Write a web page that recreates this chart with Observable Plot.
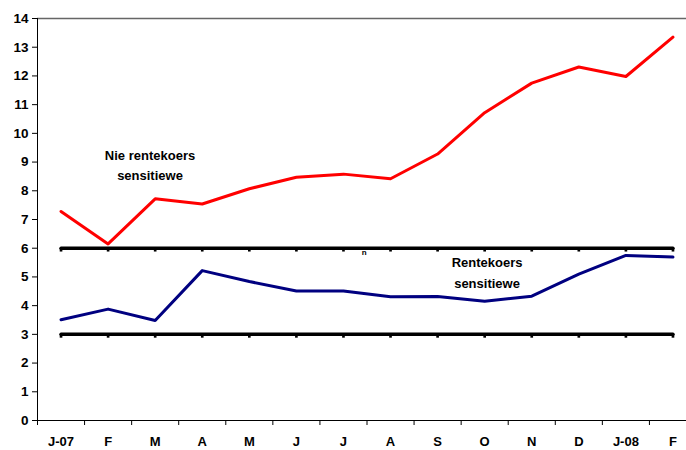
<!DOCTYPE html>
<html><head><meta charset="utf-8">
<script src="https://cdn.jsdelivr.net/npm/d3@7"></script>
<script src="https://cdn.jsdelivr.net/npm/@observablehq/plot@0.6"></script>
<style>body{margin:0;background:#fff}</style>
</head><body><div id="chart"></div>
<script>
const months = ["J-07","F","M","A","M","J","J","A","S","O","N","D","J-08","F"];
const nieRentekoers = [7.28,6.15,7.72,7.54,8.07,8.47,8.58,8.42,9.28,10.72,11.75,12.31,11.98,13.35];
const rentekoers = [3.51,3.88,3.48,5.22,4.84,4.51,4.51,4.31,4.32,4.15,4.33,5.10,5.75,5.69];
const referenceLevels = [6, 3];
const yTicks = [0,1,2,3,4,5,6,7,8,9,10,11,12,13,14];
const labelTexts = ["Nie rentekoers\nsensitiewe", "Rentekoers\nsensitiewe"];
const labelX = [1.89, 9.05];
const labelY = [8.36, 4.63];

const idx = months.map((_, i) => i);
const refRows = referenceLevels.flatMap(level => idx.map(i => ({i, level})));
const labels = labelTexts.map((t, k) => ({t, x: labelX[k], y: labelY[k]}));
const font = "'Liberation Sans','Arial',sans-serif";

const plot = Plot.plot({
  width: 686, height: 450,
  marginLeft: 37, marginTop: 18, marginBottom: 30, marginRight: 0,
  style: {fontFamily: font, fontSize: "13px", fontWeight: "bold", background: "#fff", color: "#000"},
  x: {type: "linear", domain: [-0.5, 13.5], range: [37, 696]},
  y: {domain: [0, 14], range: [420, 18]},
  marks: [
    Plot.ruleY([14], {stroke: "#666", strokeWidth: 1.5}),
    Plot.ruleY([0], {stroke: "#000", strokeWidth: 1}),
    Plot.ruleX([-0.5], {stroke: "#000", strokeWidth: 1}),
    Plot.axisY({ticks: yTicks, tickSize: 5, tickPadding: 4, fontSize: 13.5, fontWeight: "bold", tickFormat: d => d, label: null}),
    Plot.axisX({ticks: d3.range(-0.5, 14, 1), tickSize: 5, tickFormat: () => "", label: null}),
    Plot.axisX({ticks: idx, tickSize: 0, tickPadding: 16, tickFormat: i => months[i], fontSize: 13, fontWeight: "bold", label: null}),
    Plot.line(refRows, {x: "i", y: "level", z: "level", stroke: "#000", strokeWidth: 3.5}),
    Plot.dot(refRows, {x: "i", y: "level", r: 1.5, fill: "#000", symbol: "square", dy: 2}),
    Plot.line(idx, {x: i => i, y: i => nieRentekoers[i], stroke: "#ff0000", strokeWidth: 3}),
    Plot.line(idx, {x: i => i, y: i => rentekoers[i], stroke: "#000080", strokeWidth: 3}),
    Plot.text(labels, {x: "x", y: "y", text: "t", lineAnchor: "bottom", lineHeight: 1.55, fontSize: 13, fontWeight: "bold", fill: "#000"}),
    Plot.text(["n"], {x: 6.44, y: 5.75, text: d => d, lineAnchor: "bottom", fontSize: 8, fontWeight: "bold", fill: "#000"})
  ]
});
document.getElementById("chart").appendChild(plot);
</script>
</body></html>
